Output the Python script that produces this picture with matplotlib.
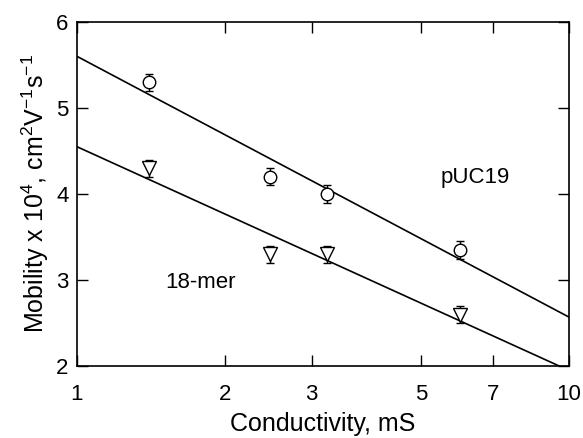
import numpy as np
import matplotlib
matplotlib.use("Agg")
import matplotlib.pyplot as plt
from matplotlib.ticker import FixedLocator, FixedFormatter, NullLocator

plt.rcParams['font.family'] = ['Liberation Sans', 'DejaVu Sans']
plt.rcParams['mathtext.fontset'] = 'custom'
plt.rcParams['mathtext.rm'] = 'Liberation Sans'

# conductivity (mS) and mobility (x10^4 cm2 V-1 s-1)
cond = [1.4, 2.47, 3.22, 6.0]
mob_puc19 = [5.30, 4.20, 4.00, 3.35]
err_puc19 = [0.1, 0.1, 0.1, 0.1]
mob_18mer = [4.30, 3.30, 3.30, 2.60]
err_18mer = [0.1, 0.1, 0.1, 0.1]

# fitted lines: endpoints
fit_x = [1.0, 10.0]
fit_puc19 = [5.60, 2.57]
fit_18mer = [4.55, 1.95]

xticks = [1, 2, 3, 5, 7, 10]
yticks = [2, 3, 4, 5, 6]

fig = plt.figure(figsize=(5.83, 4.38), dpi=100)
ax = fig.add_axes([0.132, 0.164, 0.844, 0.786])

ax.plot(fit_x, fit_puc19, color='black', lw=1.2)
ax.plot(fit_x, fit_18mer, color='black', lw=1.2)

ax.errorbar(cond, mob_puc19, yerr=err_puc19, fmt='o', mfc='white', mec='black',
            ms=9, mew=1.0, ecolor='black', elinewidth=1.0, capsize=3, zorder=3)
ax.errorbar(cond, mob_18mer, yerr=err_18mer, fmt='v', mfc='white', mec='black',
            ms=9.5, mew=1.0, ecolor='black', elinewidth=1.0, capsize=3, zorder=3)

ax.text(5.47, 4.19, 'pUC19', fontsize=16, va='center', ha='left')
ax.text(1.51, 2.97, '18-mer', fontsize=16, va='center', ha='left')

ax.set_xscale('log')
ax.set_xlim(1, 10)
ax.set_ylim(2, 6)
ax.xaxis.set_major_locator(FixedLocator(xticks))
ax.xaxis.set_major_formatter(FixedFormatter([str(t) for t in xticks]))
ax.xaxis.set_minor_locator(NullLocator())
ax.set_yticks(yticks)

ax.tick_params(direction='in', length=8, width=1, top=True, right=True,
               labelsize=16)
ax.tick_params(axis='x', pad=13)
ax.tick_params(axis='y', pad=6)
for s in ax.spines.values():
    s.set_linewidth(1.2)

ax.set_xlabel('Conductivity, mS', fontsize=18, labelpad=5)
ax.set_ylabel('Mobility x 10$^{4}$, cm$^{2}$V$^{-1}$s$^{-1}$', fontsize=18, labelpad=4)

plt.savefig('out.png', dpi=100)
